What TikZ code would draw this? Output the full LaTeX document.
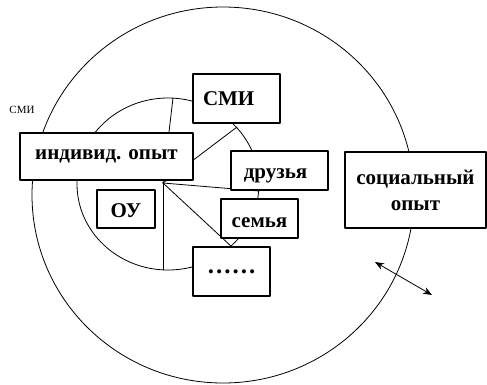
\documentclass[tikz,border=0pt]{standalone}
\usepackage{fontspec}
\setmainfont{Liberation Serif}
\usetikzlibrary{arrows.meta}
\newcommand{\lowertext}[2]{\raisebox{-#1}[\height][\depth]{#2}}
\begin{document}
\begin{tikzpicture}[x=1pt,y=-1pt,line join=round,line cap=round,
  box/.style={draw,fill=white,line width=1.1pt,inner sep=0pt,
    font=\fontsize{21}{26}\selectfont\bfseries},
  thin line/.style={line width=0.8pt}]
\useasboundingbox (0,0) rectangle (487,384);
% circles
\draw[thin line] (223,195) ellipse [x radius=191,y radius=188];
\draw[thin line] (168,184) ellipse [x radius=91,y radius=86];
% sectors of the inner circle
\coordinate (c) at (163,183);
\coordinate (p1) at (173,98);
\coordinate (p2) at (237,127);
\coordinate (p3) at (259,191);
\coordinate (p4) at (232,247);
\coordinate (p5) at (163,270);
\foreach \i in {1,...,5}
  \draw[thin line] (c) -- (p\i);
% boxes
\node[box,minimum width=173,minimum height=47] (indiv) at (106.5,156.5) {индивид. опыт};
\node[box,minimum width=58,minimum height=38] (ou) at (126,209) {\lowertext{1.5pt}{ОУ}};
\node[box,inner xsep=10pt,text width=67,align=left,minimum height=49] (smi) at (236.5,98.5) {СМИ};
\node[box,minimum width=97,minimum height=39] (druzya) at (279.5,170.5) {\kern-8pt\lowertext{5pt}{друзья}};
\node[box,minimum width=77,minimum height=39] (semya) at (259.5,218.5) {\lowertext{4pt}{семья}};
\node[box,minimum width=77,minimum height=49,font=\fontsize{25}{26}\selectfont\bfseries] (dots) at (231.5,271.5) {.\kern2pt.\kern2pt.\kern2pt.\kern2pt.\kern2pt.};
\node[box,minimum width=141,minimum height=76,align=center] (social) at (415.5,190) {социальный\\опыт};
\node[font=\fontsize{11}{13}\selectfont] (smilabel) at (22,110) {СМИ};
% arrow
\coordinate (a1) at (375,262);
\coordinate (a2) at (432,295);
\draw[{Stealth[length=9pt,width=7pt]}-{Stealth[length=9pt,width=7pt]},line width=0.8pt] (a1) -- (a2);
\end{tikzpicture}
\end{document}
